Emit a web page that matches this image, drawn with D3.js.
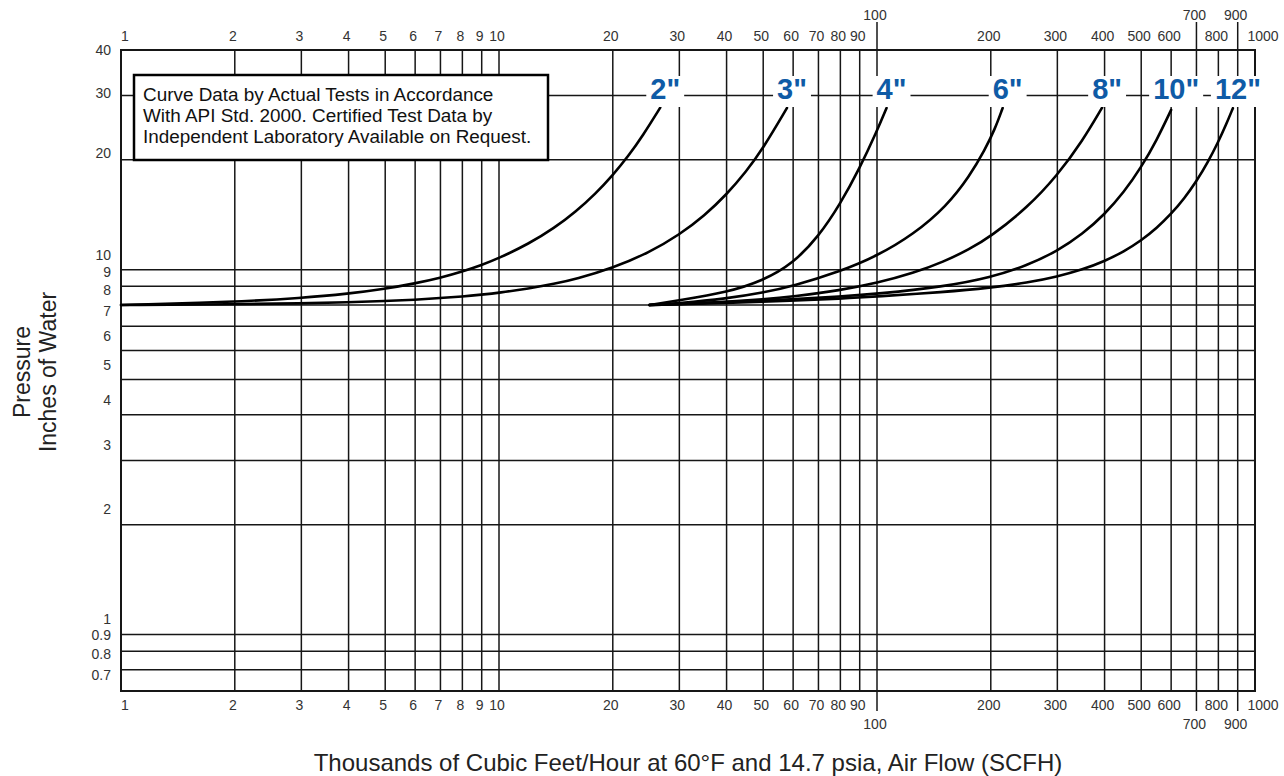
<!DOCTYPE html>
<html><head><meta charset="utf-8">
<script src="https://cdn.jsdelivr.net/npm/d3@7"></script>
<style>
html,body{margin:0;padding:0;background:#fff}
svg{display:block}
text{font-family:"Liberation Sans",Arial,Helvetica,sans-serif}
</style>
</head><body>
<svg id="chart" width="1284" height="776"></svg>
<script>
// ---------- data ----------
const xTickValues = [1,2,3,4,5,6,7,8,9,10,20,30,40,50,60,70,80,90,100,200,300,400,500,600,700,800,900,1000];
const xTickLabels = ["1","2","3","4","5","6","7","8","9","10","20","30","40","50","60","70","80","90","100","200","300","400","500","600","700","800","900","1000"];
const xRaisedTicks = [100,700,900];
const yGridValues = [0.7,0.8,0.9,1,2,3,4,5,6,7,8,9,10,20,30,40];
const yTickLabels = ["0.7","0.8","0.9","1","2","3","4","5","6","7","8","9","10","20","30","40"];
const sizeLabels = ['2"','3"','4"','6"','8"','10"','12"'];

const flow2 = [1,2,3,4,5,6,7,8,9,10,12,14,16,18,20,22,24,26.7];
const pres2 = [8.00,8.16,8.36,8.59,8.86,9.17,9.50,9.88,10.30,10.75,11.78,13.00,14.45,16.15,18.15,20.50,23.27,27.8];
const flow3 = [1,2,3,4,5,6,7,8,9,10,12,14,16,20,25,30,35,40,45,50,57.8];
const pres3 = [8.00,8.04,8.08,8.14,8.20,8.27,8.36,8.44,8.54,8.64,8.88,9.14,9.43,10.10,11.15,12.46,14.08,16.07,18.52,21.52,27.75];
const flow4 = [25,30,40,50,60,70,80,90,100,106];
const pres4 = [8.0,8.24,8.66,9.33,10.41,12.31,15.15,18.98,24.00,27.74];
const flow6 = [25,30,40,50,60,80,100,124.5,153,176,193,205,215];
const pres6 = [8.0,8.09,8.33,8.65,9.02,9.89,10.90,12.46,14.94,18.08,21.33,24.25,27.74];
const flow8 = [25,30,40,50,60,80,100,125,150,175,200,250,300,350,394];
const pres8 = [8.00,8.05,8.16,8.29,8.44,8.78,9.19,9.79,10.51,11.35,12.33,14.79,18.12,22.57,27.80];
const flow10 = [25,40,60,80,100,150,200,250,300,350,400,450,500,550,600];
const pres10 = [8.00,8.15,8.30,8.44,8.58,8.98,9.52,10.27,11.25,12.53,14.17,16.30,19.08,22.66,27.41];
const flow12 = [25,40,60,80,100,150,200,250,300,350,400,450,500,550,600,650,700,750,800,840,874];
const pres12 = [8.00,8.10,8.22,8.33,8.44,8.68,8.92,9.21,9.57,10.01,10.55,11.21,12.02,13.01,14.21,15.67,17.47,19.67,22.42,25.07,27.71];

const seriesFlow = [flow2,flow3,flow4,flow6,flow8,flow10,flow12];
const seriesPres = [pres2,pres3,pres4,pres6,pres8,pres10,pres12];

const noteLines = [
  "Curve Data by Actual Tests in Accordance",
  "With API Std. 2000. Certified Test Data by",
  "Independent Laboratory Available on Request."
];
const xTitle = "Thousands of Cubic Feet/Hour at 60\u00B0F and 14.7 psia, Air Flow (SCFH)";
const yTitle1 = "Pressure";
const yTitle2 = "Inches of Water";

// ---------- scales ----------
const svg = d3.select("#chart");
const x = d3.scaleLog().domain([1,1000]).range([121,1255]);
const y = d3.scaleLog().domain([0.7,40]).range([691,50]);
// tick labels on the printed sheet sit on a slightly different log ruling
const yLabelPos = d3.scaleLog().domain([0.7,10,40]).range([675,255,50]);

const ink = "#161616";
const labelColor = "#333";
const blue = "#0f5ba6";

// ---------- grid ----------
const g = svg.append("g");
g.selectAll("line.v").data(xTickValues).join("line")
  .attr("x1", d => x(d)).attr("x2", d => x(d))
  .attr("y1", y(40)).attr("y2", y(0.7))
  .attr("stroke", ink).attr("stroke-width", 1.5);
g.selectAll("line.h").data(yGridValues).join("line")
  .attr("x1", x(1)).attr("x2", x(1000))
  .attr("y1", d => y(d)).attr("y2", d => y(d))
  .attr("stroke", ink).attr("stroke-width", 1.5);
g.append("rect").attr("x", x(1)).attr("y", y(40))
  .attr("width", x(1000)-x(1)).attr("height", y(0.7)-y(40))
  .attr("fill","none").attr("stroke", ink).attr("stroke-width", 2);

// extended ticks for raised labels
g.selectAll("line.ut").data(xRaisedTicks).join("line")
  .attr("x1", d => x(d)).attr("x2", d => x(d))
  .attr("y1", y(40)-28).attr("y2", y(40))
  .attr("stroke", ink).attr("stroke-width", 1.5);
g.selectAll("line.dt").data(xRaisedTicks).join("line")
  .attr("x1", d => x(d)).attr("x2", d => x(d))
  .attr("y1", y(0.7)).attr("y2", y(0.7)+20)
  .attr("stroke", ink).attr("stroke-width", 1.5);

// ---------- tick labels ----------
function xdx(i){ return i===0 ? 4 : (i===xTickValues.length-1 ? 8 : -2); }
const raised = v => xRaisedTicks.includes(v);
svg.append("g").selectAll("text").data(xTickValues).join("text")
  .attr("x", (d,i) => x(d)+xdx(i))
  .attr("y", d => raised(d) ? 20 : 41)
  .attr("text-anchor","middle").attr("font-size",14).attr("fill",labelColor)
  .text((d,i) => xTickLabels[i]);
svg.append("g").selectAll("text").data(xTickValues).join("text")
  .attr("x", (d,i) => x(d)+xdx(i))
  .attr("y", d => raised(d) ? 729 : 710)
  .attr("text-anchor","middle").attr("font-size",14).attr("fill",labelColor)
  .text((d,i) => xTickLabels[i]);
svg.append("g").selectAll("text").data(yGridValues).join("text")
  .attr("x", 111).attr("y", d => yLabelPos(d)).attr("dy","0.36em")
  .attr("text-anchor","end").attr("font-size",14).attr("fill",labelColor)
  .text((d,i) => yTickLabels[i]);

// ---------- note box ----------
const note = svg.append("g");
note.append("rect").attr("x",134).attr("y",75).attr("width",414).attr("height",85)
  .attr("fill","#fff").attr("stroke","#000").attr("stroke-width",2.5);
note.selectAll("text").data(noteLines).join("text")
  .attr("x",143).attr("y",(d,i)=>101+i*20.8)
  .attr("font-size",18.9).attr("fill","#111").text(d=>d);

// ---------- curves ----------
const line = d3.line().x(d => x(d[0])).y(d => y(d[1])).curve(d3.curveBasis);
seriesFlow.forEach((fl, i) => {
  const pts = fl.map((f, j) => [f, seriesPres[i][j]]);
  svg.append("path").datum(pts).attr("d", line)
    .attr("fill","none").attr("stroke","#000").attr("stroke-width",2.6)
    .attr("stroke-linecap","round");
});

// ---------- curve labels ----------
const lab = svg.append("g");
seriesFlow.forEach((fl, i) => {
  const last = fl[fl.length-1];
  const t = lab.append("text")
    .attr("x", x(last)+5).attr("y", 99)
    .attr("text-anchor","middle").attr("font-size",29).attr("font-weight","bold")
    .attr("fill", blue).text(sizeLabels[i]);
  const b = t.node().getBBox();
  lab.insert("rect","text").attr("x", b.x-4).attr("y", 76)
    .attr("width", b.width+8).attr("height", 31).attr("fill","#fff");
});

// ---------- axis titles ----------
svg.append("text").attr("x",688).attr("y",771).attr("text-anchor","middle")
  .attr("font-size",24).attr("fill","#222").text(xTitle);
svg.append("text").attr("transform","translate(22,372) rotate(-90)").attr("dy","0.35em")
  .attr("text-anchor","middle").attr("font-size",23).attr("fill","#222").text(yTitle1);
svg.append("text").attr("transform","translate(48,372) rotate(-90)").attr("dy","0.35em")
  .attr("text-anchor","middle").attr("font-size",23).attr("fill","#222").text(yTitle2);
</script>
</body></html>
